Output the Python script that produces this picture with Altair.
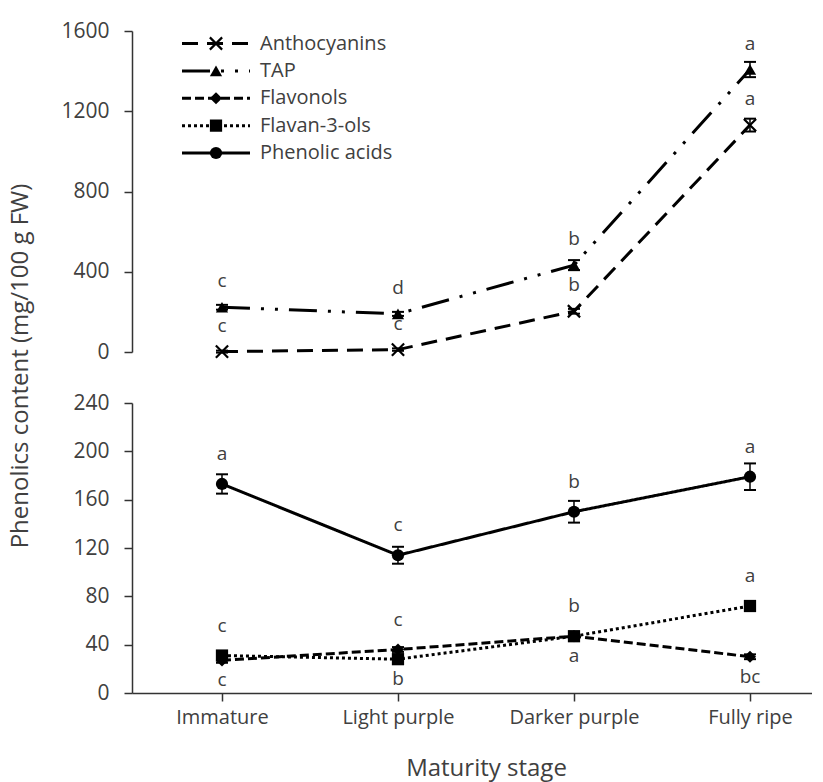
import altair as alt
import pandas as pd

# ---------------- data ----------------
stages = ["Immature", "Light purple", "Darker purple", "Fully ripe"]
series_names = ["Anthocyanins", "TAP", "Flavonols", "Flavan-3-ols", "Phenolic acids"]

anthocyanins = [2, 12, 203, 1131]
anthocyanins_err = [5, 6, 12, 32]
anthocyanins_letters = ["c", "c", "b", "a"]
anthocyanins_side = ["above", "above", "above", "above"]

tap = [223, 190, 433, 1408]
tap_err = [12, 10, 25, 38]
tap_letters = ["c", "d", "b", "a"]
tap_side = ["above", "above", "above", "above"]

phenolic_acids = [173, 114, 150, 179]
phenolic_acids_err = [8, 7, 9, 11]
phenolic_acids_letters = ["a", "c", "b", "a"]
phenolic_acids_side = ["above", "above", "above", "above"]

flavonols = [27, 36, 47, 30]
flavonols_err = [2, 2, 2, 2]
flavonols_letters = ["c", "c", "a", "bc"]
flavonols_side = ["below", "above", "below", "below"]

flavan3ols = [31, 28, 47, 72]
flavan3ols_err = [2, 2, 2, 3]
flavan3ols_letters = ["c", "b", "b", "a"]
flavan3ols_side = ["above", "below", "above", "above"]

top_ticks = [0, 400, 800, 1200, 1600]
bottom_ticks = [0, 40, 80, 120, 160, 200, 240]
y_title = "Phenolics content (mg/100 g FW)"
x_title = "Maturity stage"


def build(name, vals, errs, letters, sides):
    return pd.DataFrame({
        "series": name,
        "stage": stages,
        "value": vals,
        "lo": [v - e for v, e in zip(vals, errs)],
        "hi": [v + e for v, e in zip(vals, errs)],
        "letter": letters,
        "side": sides,
    })


top_df = pd.concat([
    build("Anthocyanins", anthocyanins, anthocyanins_err, anthocyanins_letters, anthocyanins_side),
    build("TAP", tap, tap_err, tap_letters, tap_side),
], ignore_index=True)

bottom_df = pd.concat([
    build("Phenolic acids", phenolic_acids, phenolic_acids_err, phenolic_acids_letters, phenolic_acids_side),
    build("Flavonols", flavonols, flavonols_err, flavonols_letters, flavonols_side),
    build("Flavan-3-ols", flavan3ols, flavan3ols_err, flavan3ols_letters, flavan3ols_side),
], ignore_index=True)

legend_df = pd.DataFrame({"series": series_names})
ytitle_df = pd.DataFrame({"t": [y_title]})

# ---------------- styling ----------------
FONT = "Open Sans"
TXT = "#404040"
X_PATH = "M-1,-1L1,1M-1,1L1,-1"
W = 680
H_TOP = 321
H_BOT = 290

dash_scale = alt.Scale(
    domain=series_names,
    range=[[16, 9], [28, 11, 3, 11, 3, 11], [9, 4], [3, 3], [1, 0]],
)
shape_scale = alt.Scale(
    domain=series_names,
    range=[X_PATH, "triangle-up", "diamond", "square", "circle"],
)
size_scale = alt.Scale(domain=series_names, range=[150, 150, 130, 160, 150])

x_scale = alt.Scale(type="point", padding=0.4318, align=0.592)


def panel(df, domain, ticks, height, show_x):
    if show_x:
        x_axis = alt.Axis(
            title=x_title, labelAngle=0, tickSize=8, labelPadding=6, labelFontSize=20,
            titleFontSize=24, titleFont=FONT, titleFontWeight="normal",
            titleColor=TXT, titlePadding=29, titleX=354, titleAlign="center",
        )
    else:
        x_axis = None
    x = alt.X("stage:N", sort=stages, scale=x_scale, axis=x_axis)
    y = alt.Y(
        "value:Q",
        scale=alt.Scale(domain=domain, nice=False, zero=True),
        axis=alt.Axis(values=ticks, format="d", title=None, tickSize=8,
                      labelPadding=15, labelFontSize=21),
    )
    base = alt.Chart(df)
    lines = base.mark_line(strokeWidth=3, color="black").encode(
        x=x, y=y,
        strokeDash=alt.StrokeDash("series:N", scale=dash_scale, legend=None),
        detail="series:N",
    )
    rules = base.mark_rule(strokeWidth=1.5, color="black").encode(
        x=x, y=alt.Y("lo:Q"), y2="hi:Q"
    )
    cap_lo = base.mark_tick(orient="horizontal", size=12, thickness=2, color="black", opacity=1).encode(
        x=x, y=alt.Y("lo:Q")
    )
    cap_hi = base.mark_tick(orient="horizontal", size=12, thickness=2, color="black", opacity=1).encode(
        x=x, y=alt.Y("hi:Q")
    )
    filled_pts = base.transform_filter(alt.datum.series != "Anthocyanins").mark_point(
        filled=True, color="black", opacity=1
    ).encode(
        x=x, y=y,
        shape=alt.Shape("series:N", scale=shape_scale, legend=None),
        size=alt.Size("series:N", scale=size_scale, legend=None),
    )
    x_pts = base.transform_filter(alt.datum.series == "Anthocyanins").mark_point(
        filled=False, color="black", opacity=1, strokeWidth=2.2
    ).encode(
        x=x, y=y,
        shape=alt.Shape("series:N", scale=shape_scale, legend=None),
        size=alt.Size("series:N", scale=size_scale, legend=None),
    )
    above = base.transform_filter(alt.datum.side == "above").mark_text(
        font=FONT, fontSize=19, color=TXT, dy=-26 if domain[1] > 1000 else -30
    ).encode(x=x, y=y, text="letter:N")
    below = base.transform_filter(alt.datum.side == "below").mark_text(
        font=FONT, fontSize=19, color=TXT, dy=20
    ).encode(x=x, y=y, text="letter:N")
    return alt.layer(lines, rules, cap_lo, cap_hi, filled_pts, x_pts, above, below)


top_data = panel(top_df, [0, 1600], top_ticks, H_TOP, False)
bottom_data = panel(bottom_df, [0, 240], bottom_ticks, H_BOT, True)

# ---------------- legend (top panel) ----------------
ly = alt.Y(
    "series:N", sort=series_names,
    scale=alt.Scale(type="point", domain=series_names, range=[12.5, 122], padding=0),
    axis=None,
)
lbase = alt.Chart(legend_df)
leg_rule = lbase.mark_rule(strokeWidth=3, color="black").encode(
    x=alt.value(50), x2=alt.value(118), y=ly,
    strokeDash=alt.StrokeDash("series:N", scale=dash_scale, legend=None),
)
leg_pts = lbase.transform_filter(alt.datum.series != "Anthocyanins").mark_point(
    filled=True, color="black", opacity=1
).encode(
    x=alt.value(84), y=ly,
    shape=alt.Shape("series:N", scale=shape_scale, legend=None),
    size=alt.Size("series:N", scale=size_scale, legend=None),
)
leg_x = lbase.transform_filter(alt.datum.series == "Anthocyanins").mark_point(
    filled=False, color="black", opacity=1, strokeWidth=2.2
).encode(
    x=alt.value(84), y=ly,
    shape=alt.Shape("series:N", scale=shape_scale, legend=None),
    size=alt.Size("series:N", scale=size_scale, legend=None),
)
leg_txt = lbase.mark_text(
    align="left", baseline="middle", font=FONT, fontSize=20, color=TXT
).encode(x=alt.value(128), y=ly, text="series:N")

ytitle = alt.Chart(ytitle_df).mark_text(
    angle=270, align="center", baseline="middle", font=FONT, fontSize=24, color=TXT
).encode(x=alt.value(-111), y=alt.value(335), text="t:N")

legend_layer = alt.layer(leg_rule, leg_pts, leg_x, leg_txt, ytitle)

top = alt.layer(top_data, legend_layer).resolve_scale(y="independent").properties(
    width=W, height=H_TOP
)
bottom = bottom_data.properties(width=W, height=H_BOT)

chart = (
    alt.vconcat(top, bottom, spacing=51, bounds="flush")
    .properties(padding={"left": 9, "top": 20, "right": 0, "bottom": 8})
    .configure_view(stroke=None)
    .configure_axis(
        grid=False,
        domainColor="#333333", domainWidth=1.5,
        tickColor="#333333", tickWidth=1.5,
        labelFont=FONT, labelColor=TXT,
    )
)

chart.save("out.html", embed_options={"renderer": "svg", "actions": False})
